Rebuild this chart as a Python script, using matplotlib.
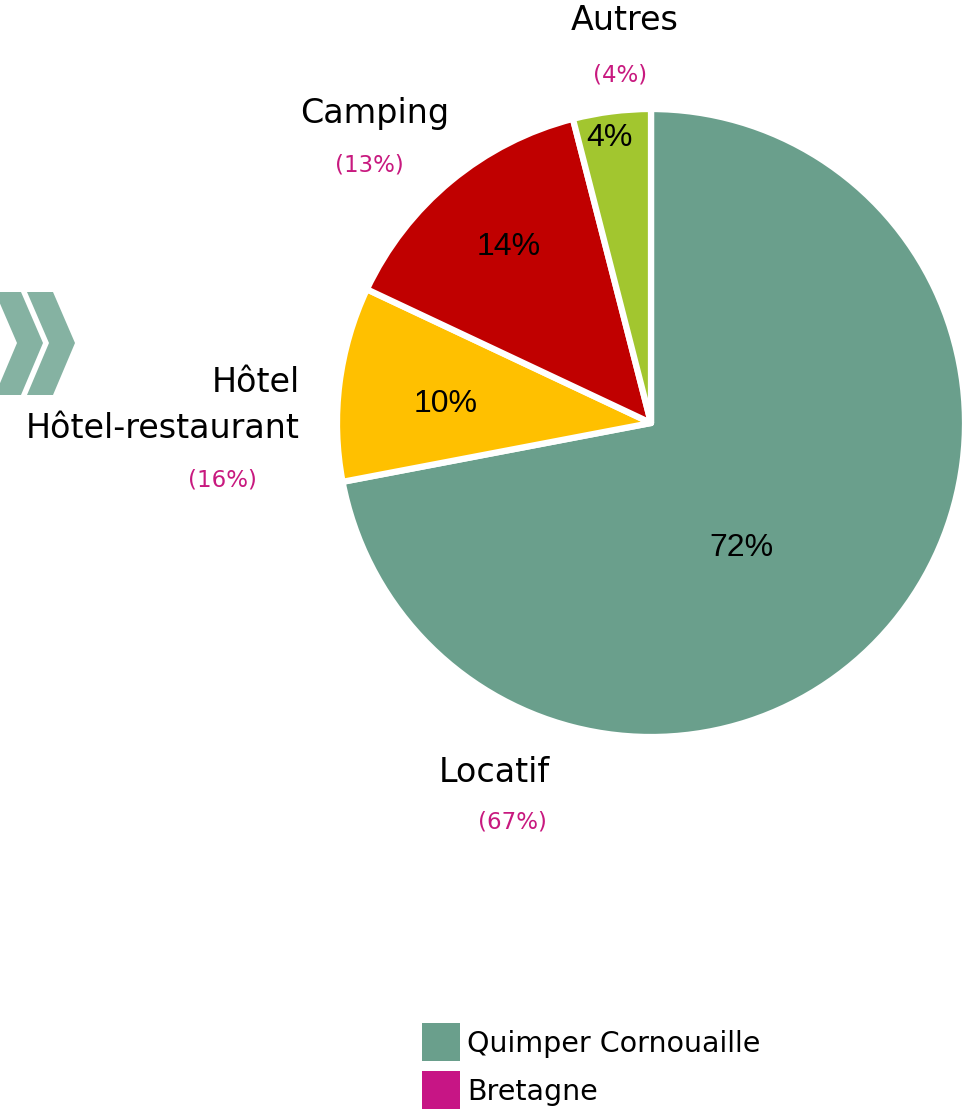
import numpy as np
import matplotlib.pyplot as plt
from matplotlib.patches import Polygon, Rectangle

# donnees
categories = ["Locatif", "Hôtel\nHôtel-restaurant", "Camping", "Autres"]
quimper = [72, 10, 14, 4]
bretagne = [67, 16, 13, 4]
colors = ["#6a9f8c", "#ffc000", "#c00000", "#a2c62f"]
legend_names = ["Quimper Cornouaille", "Bretagne"]

W, H = 974, 1111
pink = "#c8197f"

fig = plt.figure(figsize=(W / 100, H / 100), dpi=100)
ax = fig.add_axes([0, 0, 1, 1])

cx, cy, r = 651, H - 423, 314
wedges, _ = ax.pie(quimper, colors=colors, startangle=90, counterclock=False,
                   center=(cx, cy), radius=r, explode=[6 / r, 0, 0, 0],
                   wedgeprops=dict(edgecolor="white", linewidth=4.5, joinstyle="round"))

ax.set_xlim(0, W)
ax.set_ylim(0, H)
ax.set_aspect("equal")
ax.axis("off")

# pourcentages dans les parts
inside_pos = [(741, 548), (446, 404), (509, 247), (609, 138)]
for v, (x, y) in zip(quimper, inside_pos):
    ax.text(x, H - y, "%d%%" % v, ha="center", va="center", fontsize=23,
            family="Liberation Sans", color="black")

# etiquettes exterieures
lab = "DejaVu Sans"
big, small = 24, 16.5
ax.text(625, H - 20, "Autres", ha="center", va="center", fontsize=big, family=lab)
ax.text(620, H - 75, "(%d%%)" % bretagne[3], ha="center", va="center", fontsize=small, family=lab, color=pink)
ax.text(375, H - 113, "Camping", ha="center", va="center", fontsize=big, family=lab)
ax.text(369, H - 165, "(%d%%)" % bretagne[2], ha="center", va="center", fontsize=small, family=lab, color=pink)
ax.text(300, H - 383, "Hôtel", ha="right", va="center", fontsize=big, family=lab)
ax.text(300, H - 428, "Hôtel-restaurant", ha="right", va="center", fontsize=big, family=lab)
ax.text(222, H - 480, "(%d%%)" % bretagne[1], ha="center", va="center", fontsize=small, family=lab, color=pink)
ax.text(494, H - 772, "Locatif", ha="center", va="center", fontsize=big, family=lab)
ax.text(512, H - 822, "(%d%%)" % bretagne[0], ha="center", va="center", fontsize=small, family=lab, color=pink)

# chevrons decoratifs
chev = "#85b2a2"
for x0 in [-5, 27]:
    pts = [(x0, H - 292), (x0 + 26, H - 292), (x0 + 48, H - 343),
           (x0 + 26, H - 395), (x0, H - 395), (x0 + 22, H - 343)]
    ax.add_patch(Polygon(pts, closed=True, color=chev, lw=0))

# legende
leg_colors = [colors[0], "#c71585"]
for i, (name, c) in enumerate(zip(legend_names, leg_colors)):
    y = 1023 + i * 48
    ax.add_patch(Rectangle((422, H - y - 38), 38, 38, color=c, lw=0))
    ax.text(467, H - y - 21, name, ha="left", va="center", fontsize=20.5, family=lab)

fig.savefig("out.png", dpi=100)
